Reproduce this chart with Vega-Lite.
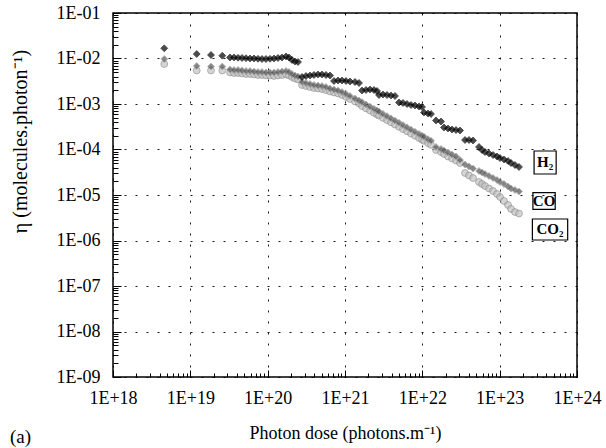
{
  "$schema": "https://vega.github.io/schema/vega-lite/v6.json",
  "width": 464,
  "height": 364,
  "autosize": "none",
  "padding": {"left": 113, "top": 13, "right": 29, "bottom": 71},
  "background": "white",
  "config": {
    "view": {"stroke": "black", "strokeWidth": 1.5},
    "font": "Liberation Serif",
    "axis": {"labelFont": "Liberation Serif", "titleFont": "Liberation Serif", "labelColor": "black", "titleColor": "black", "titleFontWeight": "normal", "domain": false, "tickColor": "black"}
  },
  "title": {"text": "(a)", "orient": "bottom", "anchor": "start", "frame": "bounds", "offset": -14, "font": "Liberation Serif", "fontSize": 19, "fontWeight": "normal", "color": "black"},
  "datasets": {
    "pts": [
      {"s":"CO2","x":4.6e18,"y":7.57e-3},{"s":"CO2","x":1.21e19,"y":5.45e-3},{"s":"CO2","x":1.85e19,"y":5.45e-3},{"s":"CO2","x":2.59e19,"y":5.45e-3},
      {"s":"CO2","x":3.26e19,"y":4.93e-3},{"s":"CO2","x":3.67e19,"y":4.8e-3},{"s":"CO2","x":4.14e19,"y":4.8e-3},{"s":"CO2","x":4.66e19,"y":4.68e-3},{"s":"CO2","x":5.25e19,"y":4.56e-3},{"s":"CO2","x":5.91e19,"y":4.56e-3},{"s":"CO2","x":6.66e19,"y":4.45e-3},{"s":"CO2","x":7.5e19,"y":4.34e-3},{"s":"CO2","x":8.45e19,"y":4.34e-3},{"s":"CO2","x":9.52e19,"y":4.23e-3},{"s":"CO2","x":1.072e20,"y":4.23e-3},{"s":"CO2","x":1.208e20,"y":4.125e-3},{"s":"CO2","x":1.36e20,"y":4.23e-3},{"s":"CO2","x":1.532e20,"y":4.34e-3},{"s":"CO2","x":1.727e20,"y":4.45e-3},{"s":"CO2","x":1.888e20,"y":4.23e-3},{"s":"CO2","x":2.064e20,"y":3.92e-3},{"s":"CO2","x":2.257e20,"y":3.633e-3},{"s":"CO2","x":2.469e20,"y":3.455e-3},
      {"s":"CO2","x":2.78e20,"y":2.616e-3},{"s":"CO2","x":3.13e20,"y":2.487e-3},{"s":"CO2","x":3.53e20,"y":2.364e-3},{"s":"CO2","x":3.97e20,"y":2.247e-3},{"s":"CO2","x":4.48e20,"y":2.191e-3},{"s":"CO2","x":5.04e20,"y":2.136e-3},{"s":"CO2","x":5.68e20,"y":2.031e-3},{"s":"CO2","x":6.4e20,"y":1.883e-3},{"s":"CO2","x":7.21e20,"y":1.79e-3},{"s":"CO2","x":8.12e20,"y":1.701e-3},{"s":"CO2","x":9.15e20,"y":1.577e-3},{"s":"CO2","x":1.031e21,"y":1.425e-3},{"s":"CO2","x":1.161e21,"y":1.288e-3},{"s":"CO2","x":1.347e21,"y":1.135e-3},{"s":"CO2","x":1.518e21,"y":1.026e-3},
      {"s":"CO2","x":1.66e21,"y":8.99e-4},{"s":"CO2","x":1.87e21,"y":8.01e-4},{"s":"CO2","x":2.106e21,"y":7.16e-4},{"s":"CO2","x":2.372e21,"y":6.4e-4},{"s":"CO2","x":2.594e21,"y":5.88e-4},{"s":"CO2","x":2.753e21,"y":5.56e-4},{"s":"CO2","x":3.101e21,"y":4.95e-4},{"s":"CO2","x":3.493e21,"y":4.43e-4},{"s":"CO2","x":3.936e21,"y":3.94e-4},{"s":"CO2","x":4.433e21,"y":3.53e-4},{"s":"CO2","x":4.993e21,"y":3.15e-4},{"s":"CO2","x":5.625e21,"y":2.81e-4},{"s":"CO2","x":6.337e21,"y":2.51e-4},{"s":"CO2","x":7.138e21,"y":2.24e-4},{"s":"CO2","x":8.04e21,"y":2.0e-4},{"s":"CO2","x":9.06e21,"y":1.79e-4},{"s":"CO2","x":9.91e21,"y":1.642e-4},{"s":"CO2","x":1.051e22,"y":1.553e-4},{"s":"CO2","x":1.184e22,"y":1.383e-4},{"s":"CO2","x":1.295e22,"y":1.269e-4},
      {"s":"CO2","x":1.503e22,"y":9.75e-5},{"s":"CO2","x":1.744e22,"y":8.81e-5},{"s":"CO2","x":1.907e22,"y":7.96e-5},{"s":"CO2","x":2.148e22,"y":7.02e-5},{"s":"CO2","x":2.42e22,"y":6.34e-5},{"s":"CO2","x":2.726e22,"y":5.73e-5},{"s":"CO2","x":3.071e22,"y":5.05e-5},{"s":"CO2","x":3.564e22,"y":3.045e-5},{"s":"CO2","x":4.015e22,"y":2.683e-5},{"s":"CO2","x":4.523e22,"y":2.364e-5},{"s":"CO2","x":5.408e22,"y":1.931e-5},{"s":"CO2","x":5.914e22,"y":1.745e-5},{"s":"CO2","x":6.467e22,"y":1.577e-5},{"s":"CO2","x":7.286e22,"y":1.39e-5},{"s":"CO2","x":8.206e22,"y":1.224e-5},{"s":"CO2","x":9.24e22,"y":1.052e-5},{"s":"CO2","x":1.01e23,"y":9.04e-6},{"s":"CO2","x":1.138e23,"y":7.38e-6},{"s":"CO2","x":1.282e23,"y":6.03e-6},{"s":"CO2","x":1.402e23,"y":4.93e-6},{"s":"CO2","x":1.579e23,"y":4.23e-6},{"s":"CO2","x":1.779e23,"y":3.92e-6},

      {"s":"CO","x":4.6e18,"y":9.75e-3},{"s":"CO","x":1.21e19,"y":6.84e-3},{"s":"CO","x":1.85e19,"y":6.67e-3},{"s":"CO","x":2.59e19,"y":6.67e-3},
      {"s":"CO","x":3.26e19,"y":5.73e-3},{"s":"CO","x":3.67e19,"y":5.59e-3},{"s":"CO","x":4.14e19,"y":5.59e-3},{"s":"CO","x":4.66e19,"y":5.45e-3},{"s":"CO","x":5.25e19,"y":5.31e-3},{"s":"CO","x":5.91e19,"y":5.31e-3},{"s":"CO","x":6.66e19,"y":5.18e-3},{"s":"CO","x":7.5e19,"y":5.05e-3},{"s":"CO","x":8.45e19,"y":5.05e-3},{"s":"CO","x":9.52e19,"y":4.93e-3},{"s":"CO","x":1.072e20,"y":4.93e-3},{"s":"CO","x":1.208e20,"y":4.93e-3},{"s":"CO","x":1.36e20,"y":5.05e-3},{"s":"CO","x":1.532e20,"y":5.18e-3},{"s":"CO","x":1.727e20,"y":5.31e-3},{"s":"CO","x":1.888e20,"y":5.05e-3},{"s":"CO","x":2.064e20,"y":4.56e-3},{"s":"CO","x":2.257e20,"y":4.23e-3},{"s":"CO","x":2.469e20,"y":4.02e-3},
      {"s":"CO","x":2.78e20,"y":3.045e-3},{"s":"CO","x":3.13e20,"y":2.894e-3},{"s":"CO","x":3.53e20,"y":2.751e-3},{"s":"CO","x":3.97e20,"y":2.616e-3},{"s":"CO","x":4.48e20,"y":2.551e-3},{"s":"CO","x":5.04e20,"y":2.487e-3},{"s":"CO","x":5.68e20,"y":2.364e-3},{"s":"CO","x":6.4e20,"y":2.191e-3},{"s":"CO","x":7.21e20,"y":2.083e-3},{"s":"CO","x":8.12e20,"y":1.98e-3},{"s":"CO","x":9.15e20,"y":1.835e-3},{"s":"CO","x":1.031e21,"y":1.659e-3},{"s":"CO","x":1.161e21,"y":1.5e-3},{"s":"CO","x":1.347e21,"y":1.321e-3},{"s":"CO","x":1.518e21,"y":1.194e-3},
      {"s":"CO","x":1.66e21,"y":1.101e-3},{"s":"CO","x":1.87e21,"y":9.8e-4},{"s":"CO","x":2.106e21,"y":8.77e-4},{"s":"CO","x":2.372e21,"y":7.84e-4},{"s":"CO","x":2.594e21,"y":7.2e-4},{"s":"CO","x":2.753e21,"y":6.81e-4},{"s":"CO","x":3.101e21,"y":6.06e-4},{"s":"CO","x":3.493e21,"y":5.42e-4},{"s":"CO","x":3.936e21,"y":4.83e-4},{"s":"CO","x":4.433e21,"y":4.32e-4},{"s":"CO","x":4.993e21,"y":3.86e-4},{"s":"CO","x":5.625e21,"y":3.44e-4},{"s":"CO","x":6.337e21,"y":3.08e-4},{"s":"CO","x":7.138e21,"y":2.74e-4},{"s":"CO","x":8.04e21,"y":2.45e-4},{"s":"CO","x":9.06e21,"y":2.19e-4},{"s":"CO","x":9.91e21,"y":2.01e-4},{"s":"CO","x":1.051e22,"y":1.9e-4},{"s":"CO","x":1.184e22,"y":1.69e-4},{"s":"CO","x":1.295e22,"y":1.553e-4},
      {"s":"CO","x":1.503e22,"y":1.135e-4},{"s":"CO","x":1.744e22,"y":1.026e-4},{"s":"CO","x":1.907e22,"y":9.51e-5},{"s":"CO","x":2.148e22,"y":8.59e-5},{"s":"CO","x":2.42e22,"y":7.76e-5},{"s":"CO","x":2.726e22,"y":7.02e-5},{"s":"CO","x":3.071e22,"y":5.88e-5},{"s":"CO","x":3.564e22,"y":4.68e-5},{"s":"CO","x":4.015e22,"y":4.23e-5},{"s":"CO","x":4.523e22,"y":3.82e-5},{"s":"CO","x":5.408e22,"y":3.37e-5},{"s":"CO","x":5.914e22,"y":3.124e-5},{"s":"CO","x":6.467e22,"y":2.894e-5},{"s":"CO","x":7.286e22,"y":2.616e-5},{"s":"CO","x":8.206e22,"y":2.364e-5},{"s":"CO","x":9.24e22,"y":2.136e-5},{"s":"CO","x":1.01e23,"y":1.931e-5},{"s":"CO","x":1.138e23,"y":1.745e-5},{"s":"CO","x":1.282e23,"y":1.538e-5},{"s":"CO","x":1.402e23,"y":1.39e-5},{"s":"CO","x":1.579e23,"y":1.288e-5},{"s":"CO","x":1.779e23,"y":1.194e-5},

      {"s":"H2","x":4.6e18,"y":1.676e-2},{"s":"H2","x":1.21e19,"y":1.256e-2},{"s":"H2","x":1.85e19,"y":1.194e-2},{"s":"H2","x":2.59e19,"y":1.152e-2},
      {"s":"H2","x":3.26e19,"y":1.052e-2},{"s":"H2","x":3.67e19,"y":1.052e-2},{"s":"H2","x":4.14e19,"y":1.036e-2},{"s":"H2","x":4.66e19,"y":1.026e-2},{"s":"H2","x":5.25e19,"y":1.015e-2},{"s":"H2","x":5.91e19,"y":1.0e-2},{"s":"H2","x":6.66e19,"y":1.0e-2},{"s":"H2","x":7.5e19,"y":9.85e-3},{"s":"H2","x":8.45e19,"y":9.75e-3},{"s":"H2","x":9.52e19,"y":9.75e-3},{"s":"H2","x":1.072e20,"y":9.85e-3},{"s":"H2","x":1.208e20,"y":1.0e-2},{"s":"H2","x":1.36e20,"y":1.026e-2},{"s":"H2","x":1.532e20,"y":1.052e-2},{"s":"H2","x":1.727e20,"y":1.107e-2},{"s":"H2","x":1.888e20,"y":1.052e-2},{"s":"H2","x":2.064e20,"y":9.27e-3},{"s":"H2","x":2.257e20,"y":8.59e-3},{"s":"H2","x":2.469e20,"y":8.38e-3},
      {"s":"H2","x":2.78e20,"y":3.92e-3},{"s":"H2","x":3.13e20,"y":4.125e-3},{"s":"H2","x":3.53e20,"y":4.23e-3},{"s":"H2","x":3.97e20,"y":4.34e-3},{"s":"H2","x":4.48e20,"y":4.45e-3},{"s":"H2","x":5.04e20,"y":4.45e-3},{"s":"H2","x":5.68e20,"y":4.34e-3},{"s":"H2","x":6.4e20,"y":4.23e-3},
      {"s":"H2","x":7.21e20,"y":3.203e-3},{"s":"H2","x":8.12e20,"y":3.285e-3},{"s":"H2","x":9.15e20,"y":3.285e-3},{"s":"H2","x":1.031e21,"y":3.203e-3},{"s":"H2","x":1.161e21,"y":3.124e-3},{"s":"H2","x":1.347e21,"y":3.045e-3},{"s":"H2","x":1.518e21,"y":2.894e-3},
      {"s":"H2","x":1.66e21,"y":1.98e-3},{"s":"H2","x":1.87e21,"y":2.031e-3},{"s":"H2","x":2.106e21,"y":2.083e-3},{"s":"H2","x":2.372e21,"y":2.031e-3},{"s":"H2","x":2.594e21,"y":1.931e-3},
      {"s":"H2","x":2.753e21,"y":1.577e-3},{"s":"H2","x":3.101e21,"y":1.617e-3},{"s":"H2","x":3.493e21,"y":1.577e-3},{"s":"H2","x":3.936e21,"y":1.538e-3},{"s":"H2","x":4.433e21,"y":1.5e-3},
      {"s":"H2","x":4.993e21,"y":1.079e-3},{"s":"H2","x":5.625e21,"y":1.052e-3},{"s":"H2","x":6.337e21,"y":1.0e-3},{"s":"H2","x":7.138e21,"y":9.51e-4},{"s":"H2","x":8.04e21,"y":9.27e-4},{"s":"H2","x":9.06e21,"y":8.81e-4},{"s":"H2","x":9.91e21,"y":8.59e-4},
      {"s":"H2","x":1.051e22,"y":6.5e-4},{"s":"H2","x":1.184e22,"y":6.18e-4},{"s":"H2","x":1.295e22,"y":6.03e-4},{"s":"H2","x":1.503e22,"y":4.34e-4},{"s":"H2","x":1.744e22,"y":4.125e-4},
      {"s":"H2","x":1.907e22,"y":3.045e-4},{"s":"H2","x":2.148e22,"y":2.894e-4},{"s":"H2","x":2.42e22,"y":2.751e-4},{"s":"H2","x":2.726e22,"y":2.683e-4},{"s":"H2","x":3.071e22,"y":2.616e-4},
      {"s":"H2","x":3.564e22,"y":1.617e-4},{"s":"H2","x":4.015e22,"y":1.617e-4},{"s":"H2","x":4.523e22,"y":1.577e-4},{"s":"H2","x":5.408e22,"y":1.135e-4},{"s":"H2","x":5.914e22,"y":9.75e-5},
      {"s":"H2","x":6.467e22,"y":8.81e-5},{"s":"H2","x":7.286e22,"y":8.17e-5},{"s":"H2","x":8.206e22,"y":7.57e-5},{"s":"H2","x":9.24e22,"y":7.02e-5},{"s":"H2","x":1.01e23,"y":6.5e-5},{"s":"H2","x":1.138e23,"y":6.03e-5},{"s":"H2","x":1.282e23,"y":5.59e-5},{"s":"H2","x":1.402e23,"y":5.05e-5},{"s":"H2","x":1.579e23,"y":4.56e-5},{"s":"H2","x":1.779e23,"y":4.125e-5}
    ],
    "labels": [
      {"label": "H₂", "x": 3.87e23, "y": 5.18e-5},
      {"label": "CO", "x": 3.75e23, "y": 7.38e-6},
      {"label": "CO₂", "x": 4.48e23, "y": 1.745e-6}
    ]
  },
  "layer": [
    {
      "data": {"name": "pts"},
      "mark": {"type": "point", "filled": true, "size": 46, "strokeWidth": 1},
      "encoding": {
        "x": {
          "field": "x", "type": "quantitative",
          "scale": {"type": "log", "domain": [1e18, 1e24], "nice": false},
          "axis": {
            "title": "Photon dose (photons.m⁻¹)",
            "titleFont": "Liberation Serif", "labelFont": "Liberation Serif",
            "titleFontSize": 18, "titlePadding": 14,
            "labelFontSize": 18, "labelPadding": 19, "labelOverlap": false, "labelFlush": false,
            "values": [1e18,2e18,3e18,4e18,5e18,6e18,7e18,8e18,9e18,1e19,2e19,3e19,4e19,5e19,6e19,7e19,8e19,9e19,1e20,2e20,3e20,4e20,5e20,6e20,7e20,8e20,9e20,1e21,2e21,3e21,4e21,5e21,6e21,7e21,8e21,9e21,1e22,2e22,3e22,4e22,5e22,6e22,7e22,8e22,9e22,1e23,2e23,3e23,4e23,5e23,6e23,7e23,8e23,9e23,1e24],
            "labelExpr": "abs(log(datum.value)/LN10 - round(log(datum.value)/LN10)) < 0.001 ? '1E+' + round(log(datum.value)/LN10) : ''",
            "grid": true,
            "gridColor": "black", "gridDash": [2, 9], "gridWidth": 1,
            "gridOpacity": {"condition": {"test": "abs(log(datum.value)/LN10 - round(log(datum.value)/LN10)) < 0.001", "value": 0.9}, "value": 0},
            "tickSize": {"condition": {"test": "abs(log(datum.value)/LN10 - round(log(datum.value)/LN10)) < 0.001", "value": -7}, "value": -4},
            "tickWidth": 1
          }
        },
        "y": {
          "field": "y", "type": "quantitative",
          "scale": {"type": "log", "domain": [1e-9, 1e-1], "nice": false},
          "axis": {
            "title": "η (molecules.photon⁻¹)",
            "titleFont": "Liberation Serif", "labelFont": "Liberation Serif",
            "titleFontSize": 20, "titleX": -93, "titleY": 128, "titleBaseline": "middle", "titleAngle": -90,
            "labelFontSize": 18, "labelPadding": 21, "labelOverlap": false, "labelFlush": false,
            "values": [1e-9,2e-9,3e-9,4e-9,5e-9,6e-9,7e-9,8e-9,9e-9,1e-8,2e-8,3e-8,4e-8,5e-8,6e-8,7e-8,8e-8,9e-8,1e-7,2e-7,3e-7,4e-7,5e-7,6e-7,7e-7,8e-7,9e-7,1e-6,2e-6,3e-6,4e-6,5e-6,6e-6,7e-6,8e-6,9e-6,1e-5,2e-5,3e-5,4e-5,5e-5,6e-5,7e-5,8e-5,9e-5,1e-4,2e-4,3e-4,4e-4,5e-4,6e-4,7e-4,8e-4,9e-4,1e-3,2e-3,3e-3,4e-3,5e-3,6e-3,7e-3,8e-3,9e-3,1e-2,2e-2,3e-2,4e-2,5e-2,6e-2,7e-2,8e-2,9e-2,1e-1],
            "labelExpr": "abs(log(datum.value)/LN10 - round(log(datum.value)/LN10)) < 0.001 ? '1E-0' + (-round(log(datum.value)/LN10)) : ''",
            "grid": true,
            "gridColor": "black", "gridDash": [2, 9], "gridWidth": 1,
            "gridOpacity": {"condition": {"test": "abs(log(datum.value)/LN10 - round(log(datum.value)/LN10)) < 0.001", "value": 0.9}, "value": 0},
            "tickSize": {"condition": {"test": "abs(log(datum.value)/LN10 - round(log(datum.value)/LN10)) < 0.001", "value": -8}, "value": -5},
            "tickWidth": 1
          }
        },
        "fill": {"field": "s", "type": "nominal", "scale": {"domain": ["H2", "CO", "CO2"], "range": ["#000000", "#555555", "#c4c4c4"]}, "legend": null},
        "stroke": {"field": "s", "type": "nominal", "scale": {"domain": ["H2", "CO", "CO2"], "range": ["#000000", "#999999", "#8a8a8a"]}, "legend": null},
        "shape": {"field": "s", "type": "nominal", "scale": {"domain": ["H2", "CO", "CO2"], "range": ["diamond", "diamond", "circle"]}, "legend": null}
      }
    },
    {
      "data": {"name": "labels"},
      "transform": [{"filter": "datum.label === 'H₂'"}],
      "mark": {"type": "point", "filled": false, "stroke": "black", "strokeWidth": 1.2, "opacity": 1, "shape": "M-0.96,-1H0.96V1H-0.96Z", "size": 529},
      "encoding": {
        "x": {"field": "x", "type": "quantitative"},
        "y": {"field": "y", "type": "quantitative"}
      }
    },
    {
      "data": {"name": "labels"},
      "transform": [{"filter": "datum.label === 'CO'"}],
      "mark": {"type": "point", "filled": false, "stroke": "black", "strokeWidth": 1.2, "opacity": 1, "shape": "M-1,-0.745H1V0.745H-1Z", "size": 497},
      "encoding": {
        "x": {"field": "x", "type": "quantitative"},
        "y": {"field": "y", "type": "quantitative"}
      }
    },
    {
      "data": {"name": "labels"},
      "transform": [{"filter": "datum.label === 'CO₂'"}],
      "mark": {"type": "point", "filled": false, "stroke": "black", "strokeWidth": 1.2, "opacity": 1, "shape": "M-1,-0.595H1V0.595H-1Z", "size": 1246},
      "encoding": {
        "x": {"field": "x", "type": "quantitative"},
        "y": {"field": "y", "type": "quantitative"}
      }
    },
    {
      "data": {"name": "labels"},
      "mark": {"type": "text", "font": "Liberation Serif", "fontSize": 15, "fontWeight": "bold", "color": "black", "align": "center", "baseline": "middle"},
      "encoding": {
        "x": {"field": "x", "type": "quantitative"},
        "y": {"field": "y", "type": "quantitative"},
        "text": {"field": "label"}
      }
    }
  ]
}
